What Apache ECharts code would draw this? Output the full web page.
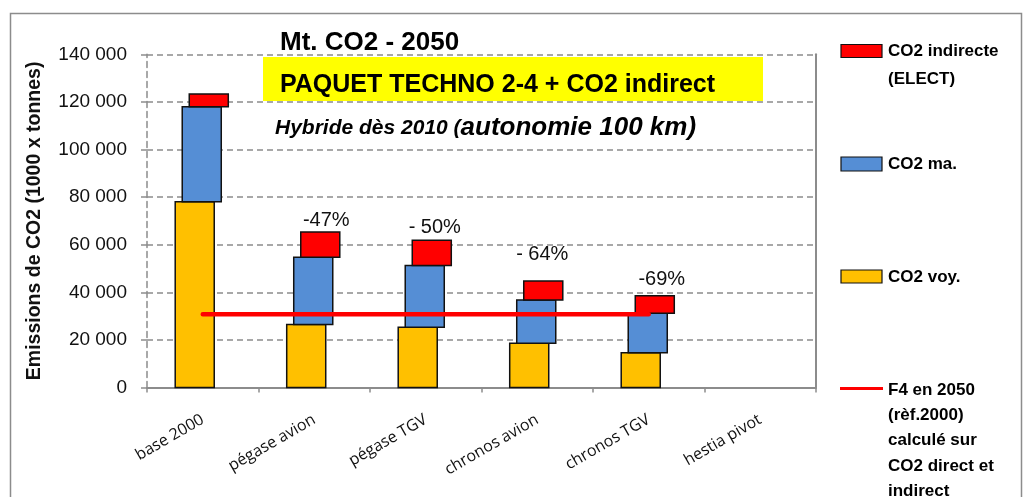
<!DOCTYPE html>
<html>
<head>
<meta charset="utf-8">
<title>Mt. CO2 - 2050</title>
<script src="https://cdn.jsdelivr.net/npm/echarts@6/dist/echarts.min.js"></script>
<style>
  html, body { margin: 0; padding: 0; background: #ffffff; }
  #chart { width: 1024px; height: 497px; }
</style>
</head>
<body>
<div id="chart"></div>
<script>
// Scenario categories
const categories = ['base 2000', 'pégase avion', 'pégase TGV', 'chronos avion', 'chronos TGV', 'hestia pivot'];

// Emissions (1000 x tonnes), stacked: voyageurs, marchandises, indirect (électricité)
const co2Voy = [78000, 26500, 25300, 18600, 14600, null];
const co2Ma = [40000, 28200, 26000, 18200, 16600, null];
const co2Indirect = [5300, 10600, 10600, 8000, 7400, null];

// Factor-4 target line (2000 reference / 4)
const f4Target = [30800, 30800, 30800, 30800, 30800, null];

// Reduction labels vs. base 2000
const reductionLabels = ['', '-47%', '- 50%', '- 64%', '-69%', ''];
const reductionNudge = [[0, 0], [12, -12], [9, -13], [5, -26], [13, -16], [0, 0]];

// Y axis ticks
const yMin = 0;
const yMax = 140000;
const yStep = 20000;

const AXIS_GREY = '#8c8c8c';
const FONT = '"Liberation Sans", Arial, sans-serif';

// Build [index, bottom, top] rows for each stacked segment
function buildSegments(lower, values) {
  const rows = [];
  values.forEach(function (v, i) {
    if (v == null) return;
    let base = 0;
    lower.forEach(function (arr) { base += arr[i] || 0; });
    rows.push([i, base, base + v]);
  });
  return rows;
}

const voyRows = buildSegments([], co2Voy);
const maRows = buildSegments([co2Voy], co2Ma);
const indRows = buildSegments([co2Voy, co2Ma], co2Indirect);

// Each stacked block is shifted a little to the right of the one below it
function segmentRenderer(shift, color) {
  return function (params, api) {
    const i = api.value(0);
    const lo = api.coord([i, api.value(1)]);
    const hi = api.coord([i, api.value(2)]);
    const band = api.size([1, 0])[0];
    const w = band * 0.35;
    const cx = lo[0] + band * shift;
    return {
      type: 'rect',
      shape: { x: cx - w / 2, y: hi[1], width: w, height: lo[1] - hi[1] },
      style: { fill: color, stroke: '#111111', lineWidth: 1.5 }
    };
  };
}

const labelRows = indRows.map(function (r) { return [r[0], r[2]]; });

function labelRenderer(params, api) {
  const i = api.value(0);
  const p = api.coord([i, api.value(1)]);
  const nudge = reductionNudge[i];
  return {
    type: 'text',
    style: {
      x: p[0] + nudge[0],
      y: p[1] + nudge[1],
      text: reductionLabels[i],
      fill: '#111111',
      font: '20px ' + FONT,
      align: 'center',
      verticalAlign: 'middle'
    }
  };
}

const chart = echarts.init(document.getElementById('chart'), null, { renderer: 'canvas' });

function thousands(v) {
  return String(v).replace(/\B(?=(\d{3})+(?!\d))/g, ' ');
}

const option = {
  backgroundColor: '#ffffff',
  animation: false,
  grid: { left: 147, right: 208, top: 54.3, bottom: 109.5 },
  xAxis: {
    type: 'category',
    data: categories,
    boundaryGap: true,
    axisLine: { show: true, lineStyle: { color: AXIS_GREY, width: 2 } },
    axisTick: { show: true, length: 5, alignWithLabel: false, lineStyle: { color: AXIS_GREY, width: 1.5 } },
    axisLabel: {
      rotate: 30,
      margin: 31,
      interval: 0,
      color: '#111111',
      fontFamily: '"Open Sans", sans-serif',
      fontSize: 16
    },
    splitLine: { show: false }
  },
  yAxis: [
    {
      type: 'value',
      min: yMin,
      max: yMax,
      interval: yStep,
      position: 'left',
      name: 'Emissions de CO2 (1000 x tonnes)',
      nameLocation: 'middle',
      nameRotate: 90,
      nameGap: 102,
      nameTextStyle: { color: '#111111', fontFamily: FONT, fontWeight: 'bold', fontSize: 19.5 },
      axisLine: { show: true, lineStyle: { color: AXIS_GREY, width: 1.5, type: [6, 4] } },
      axisTick: { show: true, inside: false, length: 9, lineStyle: { color: AXIS_GREY, width: 1.5, type: [6, 4] } },
      axisLabel: {
        margin: 20,
        color: '#111111',
        fontFamily: FONT,
        fontSize: 19,
        formatter: thousands
      },
      splitLine: { show: true, lineStyle: { color: AXIS_GREY, width: 1.5, type: [6, 4] } }
    },
    {
      type: 'value',
      min: yMin,
      max: yMax,
      interval: yStep,
      position: 'right',
      axisLine: { show: true, lineStyle: { color: AXIS_GREY, width: 2 } },
      axisTick: { show: false },
      axisLabel: { show: false },
      splitLine: { show: false }
    }
  ],
  series: [
    {
      name: 'CO2 voy.',
      type: 'custom',
      renderItem: segmentRenderer(-0.072, '#ffc000'),
      encode: { x: 0, y: [1, 2] },
      data: voyRows,
      z: 2
    },
    {
      name: 'CO2 ma.',
      type: 'custom',
      renderItem: segmentRenderer(-0.009, '#558ed5'),
      encode: { x: 0, y: [1, 2] },
      data: maRows,
      z: 2
    },
    {
      name: 'CO2 indirecte (ELECT)',
      type: 'custom',
      renderItem: segmentRenderer(0.054, '#ff0000'),
      encode: { x: 0, y: [1, 2] },
      data: indRows,
      z: 2
    },
    {
      name: 'F4 en 2050',
      type: 'line',
      data: f4Target,
      symbol: 'none',
      connectNulls: false,
      lineStyle: { color: '#ff0000', width: 4.5, cap: 'round' },
      z: 4
    },
    {
      name: 'reduction',
      type: 'custom',
      renderItem: labelRenderer,
      encode: { x: 0, y: 1 },
      data: labelRows,
      z: 5
    }
  ],
  graphic: [
    // outer frame
    {
      type: 'rect', z: 0, silent: true,
      shape: { x: 10.5, y: 13.5, width: 1011, height: 520 },
      style: { fill: 'none', stroke: '#8c8c8c', lineWidth: 1.5 }
    },
    // titles
    {
      type: 'text', z: 10,
      style: { x: 280, y: 43, text: 'Mt. CO2 - 2050', font: 'bold 26px ' + FONT, fill: '#000000', verticalAlign: 'middle' }
    },
    {
      type: 'rect', z: 1,
      shape: { x: 263, y: 57, width: 500, height: 44 },
      style: { fill: '#ffff00' }
    },
    {
      type: 'text', z: 10,
      style: { x: 280, y: 85, text: 'PAQUET TECHNO 2-4 + CO2 indirect', font: 'bold 25px ' + FONT, fill: '#000000', verticalAlign: 'middle' }
    },
    {
      type: 'text', z: 10,
      style: {
        x: 275, y: 128,
        text: '{a|Hybride dès 2010 (}{b|autonomie 100 km)}',
        verticalAlign: 'middle',
        rich: {
          a: { font: 'italic bold 21px ' + FONT, fill: '#000000' },
          b: { font: 'italic bold 26px ' + FONT, fill: '#000000' }
        }
      }
    },
    // legend
    { type: 'rect', z: 10, shape: { x: 841, y: 44.5, width: 41, height: 13 }, style: { fill: '#ff0000', stroke: '#111111', lineWidth: 1.2 } },
    { type: 'text', z: 10, style: { x: 888, y: 37.8, text: 'CO2 indirecte\n(ELECT)', lineHeight: 27.5, font: 'bold 17px ' + FONT, fill: '#000000', verticalAlign: 'top' } },
    { type: 'rect', z: 10, shape: { x: 841, y: 157, width: 41, height: 14 }, style: { fill: '#558ed5', stroke: '#111111', lineWidth: 1.2 } },
    { type: 'text', z: 10, style: { x: 888, y: 164, text: 'CO2 ma.', font: 'bold 17px ' + FONT, fill: '#000000', verticalAlign: 'middle' } },
    { type: 'rect', z: 10, shape: { x: 841, y: 270, width: 41, height: 13 }, style: { fill: '#ffc000', stroke: '#111111', lineWidth: 1.2 } },
    { type: 'text', z: 10, style: { x: 888, y: 277, text: 'CO2 voy.', font: 'bold 17px ' + FONT, fill: '#000000', verticalAlign: 'middle' } },
    { type: 'line', z: 10, shape: { x1: 840, y1: 388.5, x2: 883, y2: 388.5 }, style: { stroke: '#ff0000', lineWidth: 3 } },
    { type: 'text', z: 10, style: { x: 888, y: 377.3, text: 'F4 en 2050\n(rèf.2000)\ncalculé sur\nCO2 direct et\nindirect', lineHeight: 25.4, font: 'bold 17px ' + FONT, fill: '#000000', verticalAlign: 'top' } }
  ]
};

chart.setOption(option);
</script>
</body>
</html>
